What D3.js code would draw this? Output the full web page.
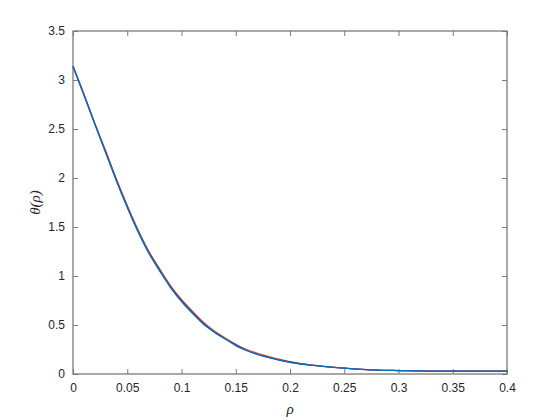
<!DOCTYPE html>
<html>
<head>
<meta charset="utf-8">
<script src="https://cdn.jsdelivr.net/npm/d3@7"></script>
<style>
  body { margin: 0; background: #fff; }
  .tick text { font-family: "Liberation Sans", Arial, sans-serif; font-size: 12px; fill: #262626; }
  .lbl { font-family: "Liberation Serif", "DejaVu Serif", serif; font-style: italic; font-size: 15px; fill: #262626; }
</style>
</head>
<body>
<div id="chart"></div>
<script>
// values
const rho = [0, 0.01, 0.02, 0.03, 0.04, 0.05, 0.06, 0.07, 0.08, 0.09, 0.10, 0.11, 0.12, 0.13, 0.14, 0.15, 0.16, 0.18, 0.20, 0.22, 0.25, 0.28, 0.30, 0.35, 0.40];
const thetaBlue = [3.14, 2.85, 2.55, 2.26, 1.97, 1.70, 1.45, 1.23, 1.05, 0.88, 0.74, 0.62, 0.51, 0.43, 0.36, 0.29, 0.24, 0.17, 0.12, 0.09, 0.06, 0.04, 0.035, 0.028, 0.03];
const thetaRed  = [3.14, 2.86, 2.56, 2.28, 1.99, 1.72, 1.47, 1.25, 1.07, 0.90, 0.76, 0.64, 0.53, 0.44, 0.37, 0.30, 0.25, 0.18, 0.125, 0.09, 0.06, 0.04, 0.035, 0.028, 0.03];
const thetaPurple = [3.14, 2.85, 2.56, 2.27, 1.98, 1.71, 1.46, 1.24, 1.06, 0.89, 0.75, 0.63, 0.52, 0.43, 0.36, 0.30, 0.24, 0.17, 0.12, 0.09, 0.06, 0.04, 0.035, 0.028, 0.03];
const xTicks = [0, 0.05, 0.1, 0.15, 0.2, 0.25, 0.3, 0.35, 0.4];
const yTicks = [0, 0.5, 1, 1.5, 2, 2.5, 3, 3.5];

const W = 560, H = 420;
const mLeft = 73, mRight = 507, mTop = 31, mBottom = 374;

const svg = d3.select("#chart").append("svg")
  .attr("width", W).attr("height", H);

const x = d3.scaleLinear().domain([0, 0.4]).range([mLeft, mRight]);
const y = d3.scaleLinear().domain([0, 3.5]).range([mBottom, mTop]);

const axisColor = "#7a7a7a";
const tickFmt = d => String(+d.toFixed(2));

function styleAxis(g, hideText) {
  g.select(".domain").remove();
  g.selectAll(".tick line").attr("stroke", axisColor);
  if (hideText) g.selectAll(".tick text").remove();
}

// inward ticks on all four sides
svg.append("g").attr("transform", `translate(0,${mBottom})`)
  .call(d3.axisBottom(x).tickValues(xTicks).tickSize(-5).tickPadding(9).tickFormat(tickFmt))
  .call(g => styleAxis(g, false));
svg.append("g").attr("transform", `translate(0,${mTop})`)
  .call(d3.axisTop(x).tickValues(xTicks).tickSize(-5))
  .call(g => styleAxis(g, true));
svg.append("g").attr("transform", `translate(${mLeft},0)`)
  .call(d3.axisLeft(y).tickValues(yTicks).tickSize(-5).tickPadding(8).tickFormat(tickFmt))
  .call(g => styleAxis(g, false));
svg.append("g").attr("transform", `translate(${mRight},0)`)
  .call(d3.axisRight(y).tickValues(yTicks).tickSize(-5))
  .call(g => styleAxis(g, true));

svg.append("rect")
  .attr("x", mLeft).attr("y", mTop)
  .attr("width", mRight - mLeft).attr("height", mBottom - mTop)
  .attr("fill", "none").attr("stroke", axisColor).attr("stroke-width", 1.3);

const line = d3.line()
  .x((d, i) => x(rho[i]))
  .y(d => y(d))
  .curve(d3.curveMonotoneX);

const series = [
  { vals: thetaRed, color: "#D95319" },
  { vals: thetaPurple, color: "#7E2F8E" },
  { vals: thetaBlue, color: "#0072BD" }
];

svg.selectAll("path.curve")
  .data(series)
  .enter()
  .append("path")
  .attr("class", "curve")
  .attr("d", d => line(d.vals))
  .attr("fill", "none")
  .attr("stroke", d => d.color)
  .attr("stroke-width", 1.3);

svg.append("text")
  .attr("class", "lbl")
  .attr("x", (mLeft + mRight) / 2)
  .attr("y", 414)
  .attr("text-anchor", "middle")
  .text("ρ");

svg.append("text")
  .attr("class", "lbl")
  .attr("transform", `translate(40,${(mTop + mBottom) / 2}) rotate(-90)`)
  .attr("text-anchor", "middle")
  .text("θ(ρ)");
</script>
</body>
</html>
